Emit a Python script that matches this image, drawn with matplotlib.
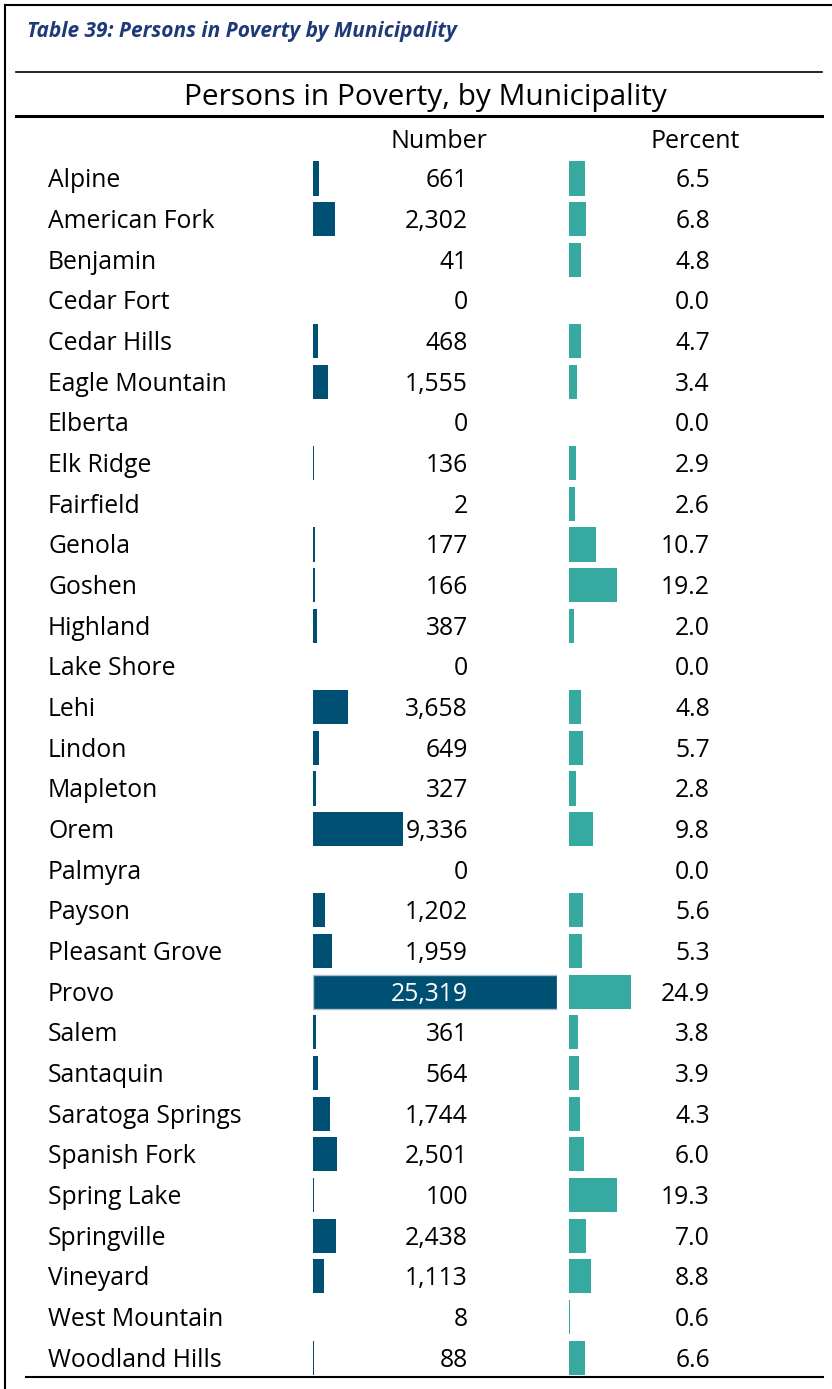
import matplotlib
matplotlib.use('Agg')
import matplotlib.pyplot as plt

plt.rcParams['font.family'] = ['Open Sans', 'DejaVu Sans']

# data
places = ['Alpine', 'American Fork', 'Benjamin', 'Cedar Fort', 'Cedar Hills',
          'Eagle Mountain', 'Elberta', 'Elk Ridge', 'Fairfield', 'Genola',
          'Goshen', 'Highland', 'Lake Shore', 'Lehi', 'Lindon', 'Mapleton',
          'Orem', 'Palmyra', 'Payson', 'Pleasant Grove', 'Provo', 'Salem',
          'Santaquin', 'Saratoga Springs', 'Spanish Fork', 'Spring Lake',
          'Springville', 'Vineyard', 'West Mountain', 'Woodland Hills']
number = [661, 2302, 41, 0, 468, 1555, 0, 136, 2, 177, 166, 387, 0, 3658, 649,
          327, 9336, 0, 1202, 1959, 25319, 361, 564, 1744, 2501, 100, 2438,
          1113, 8, 88]
percent = [6.5, 6.8, 4.8, 0.0, 4.7, 3.4, 0.0, 2.9, 2.6, 10.7, 19.2, 2.0, 0.0,
           4.8, 5.7, 2.8, 9.8, 0.0, 5.6, 5.3, 24.9, 3.8, 3.9, 4.3, 6.0, 19.3,
           7.0, 8.8, 0.6, 6.6]

W, H = 832, 1389
fig = plt.figure(figsize=(W / 100, H / 100), dpi=100)

# overlay in pixel coords for frame/lines/headers
bg = fig.add_axes([0, 0, 1, 1])
bg.set_xlim(0, W)
bg.set_ylim(H, 0)
bg.axis('off')

bg.plot([5, W], [5, 5], color='black', lw=1.5)
bg.plot([5, 5], [5, H], color='black', lw=1.5)
bg.plot([16, 822], [72, 72], color='black', lw=1.2)
bg.plot([16, 822], [116, 116], color='black', lw=2.2)
bg.plot([26, 823], [1377, 1377], color='black', lw=1.5)

bg.text(27, 32, 'Table 39: Persons in Poverty by Municipality', fontsize=15,
        fontweight='bold', style='italic', color='#1F3A78', va='center', ha='left')
bg.text(425, 98, 'Persons in Poverty, by Municipality', fontsize=21.5,
        color='black', va='center', ha='center')
bg.text(439, 141, 'Number', fontsize=18, va='center', ha='center')
bg.text(695, 141, 'Percent', fontsize=18, va='center', ha='center')

# row area
top_px, bot_px = 158.2, 1378
n = len(places)


def fig_box(x0, x1):
    return [x0 / W, 1 - bot_px / H, (x1 - x0) / W, (bot_px - top_px) / H]


rows = list(range(n))
num_max = max(number)
pct_max = max(percent)

ax1 = fig.add_axes(fig_box(313, 557))
edge = ['#A9BFCF' if v == num_max else 'none' for v in number]
ax1.barh(rows, number, height=0.84, color='#005073', edgecolor=edge, linewidth=1)
ax1.set_xlim(0, num_max)
ax1.set_ylim(n - 0.5, -0.5)
ax1.axis('off')

ax2 = fig.add_axes(fig_box(569, 631))
ax2.barh(rows, percent, height=0.84, color='#36AAA0')
ax2.set_xlim(0, pct_max)
ax2.set_ylim(n - 0.5, -0.5)
ax2.axis('off')

tr1 = ax1.get_yaxis_transform()
tr2 = ax2.get_yaxis_transform()
lab_x = (48 - 313) / 244
val_x = (468 - 313) / 244
pct_x = (710 - 569) / 62
fs = 17.8
for i in rows:
    y = i + 0.06
    ax1.text(lab_x, y, places[i], transform=tr1, fontsize=fs, ha='left',
             va='center', clip_on=False)
    col = 'white' if number[i] == num_max else 'black'
    ax1.text(val_x, y, f'{number[i]:,}', transform=tr1, fontsize=fs,
             ha='right', va='center', color=col, clip_on=False)
    ax2.text(pct_x, y, f'{percent[i]:.1f}', transform=tr2, fontsize=fs,
             ha='right', va='center', clip_on=False)

fig.savefig('out.png', dpi=100)
